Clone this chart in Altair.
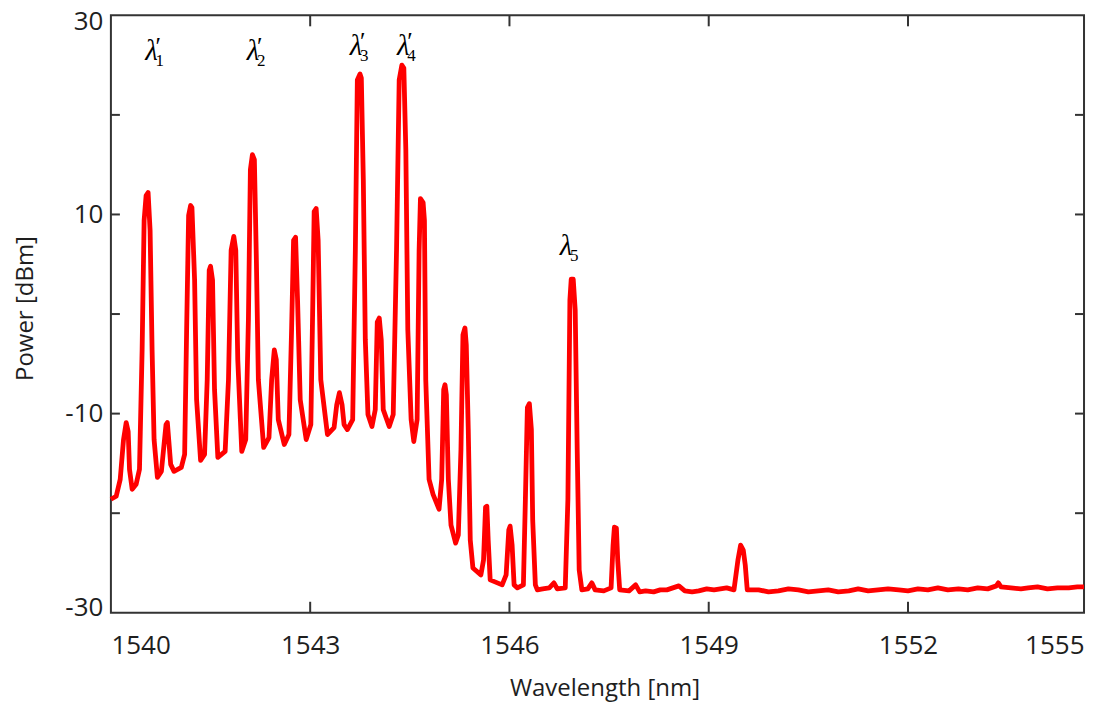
import altair as alt
import pandas as pd

# ---- spectrum trace (wavelength nm, power dBm) ----
wavelength = [
    1540.00, 1540.08, 1540.14, 1540.19, 1540.23, 1540.26, 1540.28, 1540.32, 1540.38, 1540.43,
    1540.47, 1540.50, 1540.53, 1540.56, 1540.59, 1540.62, 1540.65, 1540.70, 1540.76, 1540.80,
    1540.83, 1540.85, 1540.87, 1540.90, 1540.95, 1541.06, 1541.11, 1541.14, 1541.17, 1541.20,
    1541.22, 1541.26, 1541.29, 1541.35, 1541.41, 1541.45, 1541.48, 1541.50, 1541.53, 1541.56,
    1541.61, 1541.72, 1541.77, 1541.81, 1541.85, 1541.88, 1541.91, 1541.97, 1542.03, 1542.07,
    1542.10, 1542.13, 1542.16, 1542.19, 1542.22, 1542.30, 1542.38, 1542.42, 1542.46, 1542.49,
    1542.52, 1542.61, 1542.68, 1542.72, 1542.75, 1542.78, 1542.81, 1542.85, 1542.94, 1543.01,
    1543.04, 1543.06, 1543.09, 1543.12, 1543.16, 1543.26, 1543.36, 1543.40, 1543.44, 1543.48,
    1543.51, 1543.56, 1543.64, 1543.68, 1543.71, 1543.75, 1543.77, 1543.80, 1543.83, 1543.87,
    1543.93, 1543.98, 1544.01, 1544.04, 1544.07, 1544.10, 1544.19, 1544.25, 1544.30, 1544.34,
    1544.38, 1544.41, 1544.44, 1544.47, 1544.52, 1544.56, 1544.61, 1544.64, 1544.66, 1544.70,
    1544.72, 1544.74, 1544.79, 1544.85, 1544.94, 1544.98, 1545.01, 1545.03, 1545.05, 1545.08,
    1545.12, 1545.19, 1545.23, 1545.27, 1545.30, 1545.33, 1545.35, 1545.38, 1545.41, 1545.45,
    1545.57, 1545.61, 1545.64, 1545.66, 1545.68, 1545.71, 1545.89, 1545.95, 1545.99, 1546.01,
    1546.04, 1546.07, 1546.12, 1546.21, 1546.24, 1546.27, 1546.30, 1546.33, 1546.35, 1546.39,
    1546.42, 1546.50, 1546.60, 1546.67, 1546.72, 1546.84, 1546.88, 1546.91, 1546.93, 1546.96,
    1546.99, 1547.02, 1547.05, 1547.09, 1547.18, 1547.24, 1547.29, 1547.42, 1547.53, 1547.56,
    1547.58, 1547.61, 1547.63, 1547.66, 1547.80, 1547.90, 1547.96, 1548.05, 1548.17, 1548.27,
    1548.37, 1548.55, 1548.64, 1548.75, 1548.85, 1548.97, 1549.08, 1549.27, 1549.38, 1549.44,
    1549.48, 1549.52, 1549.55, 1549.58, 1549.75, 1549.90, 1550.05, 1550.20, 1550.35, 1550.50,
    1550.65, 1550.80, 1550.95, 1551.11, 1551.25, 1551.40, 1551.55, 1551.70, 1551.86, 1552.00,
    1552.15, 1552.30, 1552.45, 1552.60, 1552.76, 1552.90, 1553.05, 1553.20, 1553.33, 1553.36,
    1553.40, 1553.55, 1553.70, 1553.81, 1553.95, 1554.10, 1554.25, 1554.42, 1554.55, 1554.65,
]
power = [
    -18.6, -18.3, -16.6, -12.6, -10.9, -11.8, -15.6, -17.6, -17.1, -15.6,
    -3.6, 9.4, 11.9, 12.2, 8.4, -3.6, -12.6, -16.4, -15.8, -13.1,
    -11.1, -10.9, -12.6, -15.1, -15.8, -15.4, -14.1, -1.6, 9.9, 10.9,
    10.7, 3.4, -8.6, -14.7, -14.1, -6.6, 4.4, 4.8, 3.4, -7.6,
    -14.4, -13.8, -6.6, 6.4, 7.8, 6.4, -4.6, -13.8, -12.6, -0.6,
    14.5, 16.0, 15.5, 5.4, -6.6, -13.4, -12.4, -6.6, -3.6, -4.6,
    -10.6, -13.1, -12.1, -1.6, 7.4, 7.7, 1.4, -8.6, -12.6, -11.1,
    1.4, 10.3, 10.6, 7.4, -6.6, -12.1, -11.4, -9.1, -7.9, -9.1,
    -11.1, -11.6, -10.6, 6.4, 23.5, 24.1, 23.7, 13.5, -2.6, -10.1,
    -11.3, -9.6, -0.8, -0.4, -2.6, -9.6, -11.3, -10.1, 6.4, 23.5,
    25.0, 24.7, 16.5, -1.6, -10.6, -12.8, -10.6, 6.4, 11.6, 11.2,
    9.4, -6.6, -16.6, -18.1, -19.6, -16.6, -7.6, -7.1, -8.1, -16.6,
    -21.2, -23.0, -22.2, -13.6, -2.1, -1.4, -3.1, -11.6, -22.7, -25.5,
    -26.2, -24.7, -19.4, -19.3, -22.7, -26.7, -27.2, -26.2, -21.7, -21.3,
    -23.2, -27.2, -27.5, -27.2, -18.6, -9.4, -9.0, -11.6, -20.7, -27.2,
    -27.7, -27.6, -27.5, -27.0, -27.6, -27.5, -18.6, 1.4, 3.5, 3.5,
    0.4, -13.6, -25.7, -27.7, -27.6, -27.0, -27.7, -27.8, -27.5, -23.2,
    -21.4, -21.5, -24.7, -27.7, -27.8, -27.2, -27.9, -27.8, -27.9, -27.7,
    -27.7, -27.3, -27.8, -27.9, -27.8, -27.6, -27.7, -27.5, -27.7, -24.7,
    -23.2, -23.7, -25.2, -27.7, -27.7, -27.9, -27.8, -27.6, -27.7, -27.9,
    -27.8, -27.7, -27.9, -27.8, -27.6, -27.8, -27.7, -27.6, -27.7, -27.8,
    -27.6, -27.7, -27.5, -27.7, -27.6, -27.7, -27.5, -27.6, -27.3, -27.0,
    -27.4, -27.5, -27.6, -27.5, -27.4, -27.6, -27.5, -27.5, -27.4, -27.4,
]

# ---- axes ----
x_tick_values = [1540, 1543, 1546, 1549, 1552, 1554.65]   # last one is labelled 1555
y_tick_values = [30, 10, -10, -30]
x_inner_ticks = [1543, 1546, 1549, 1552]
y_inner_ticks = [20, 10, 0, -10, -20]

# ---- peak annotations ----
label_wl = [1540.61, 1542.14, 1543.69, 1544.40, 1546.85]
label_db = [25.5, 25.5, 26.0, 26.0, 5.9]
label_sub = ["1", "2", "3", "4", "5"]
label_prime = ["′", "′", "′", "′", ""]

W, H = 974, 598
xscale = alt.Scale(domain=[1540, 1554.65], nice=False, zero=False)
yscale = alt.Scale(domain=[-30, 30], nice=False, zero=False)

xaxis = alt.Axis(
    values=x_tick_values, labelExpr="format(datum.value, '.0f')", title="Wavelength [nm]",
    ticks=False, domain=False, grid=False, labelFlush=True,
    labelFont="Open Sans", labelFontSize=26, labelColor="#1e1e1e", labelPadding=20,
    titleFont="Open Sans", titleFontSize=24, titleFontWeight="normal", titleColor="#1e1e1e",
    titleX=494, titleY=76, titleBaseline="middle")
yaxis = alt.Axis(
    values=y_tick_values, labelExpr="'' + datum.value", title="Power [dBm]",
    ticks=False, domain=False, grid=False, labelFlush=False,
    labelOffset={"condition": [{"test": "datum.value == 30", "value": 6},
                               {"test": "datum.value == -30", "value": -5}],
                 "value": 0},
    labelFont="Open Sans", labelFontSize=26, labelColor="#1e1e1e", labelPadding=8,
    titleFont="Open Sans", titleFontSize=24, titleFontWeight="normal", titleColor="#1e1e1e",
    titleX=-85, titleY=293, titleBaseline="middle", titleAngle=-90)

X = alt.X("wl:Q", scale=xscale, axis=xaxis)
Y = alt.Y("p:Q", scale=yscale, axis=yaxis)

df = pd.DataFrame({"wl": wavelength, "p": power})
lab = pd.DataFrame({"wl": label_wl, "p": label_db, "sub": label_sub, "prime": label_prime})
xt = pd.DataFrame({"wl": x_inner_ticks})
yt = pd.DataFrame({"p": y_inner_ticks})

line = alt.Chart(df).mark_line(color="#ff0000", strokeWidth=4.8, strokeJoin="round").encode(x=X, y=Y)

tick_style = dict(color="#333333", strokeWidth=2)
bottom_ticks = alt.Chart(xt).mark_rule(**tick_style).encode(x=X, y=alt.value(H), y2=alt.value(H - 11))
top_ticks = alt.Chart(xt).mark_rule(**tick_style).encode(x=X, y=alt.value(0), y2=alt.value(11))
left_ticks = alt.Chart(yt).mark_rule(**tick_style).encode(y=Y, x=alt.value(0), x2=alt.value(9))
right_ticks = alt.Chart(yt).mark_rule(**tick_style).encode(y=Y, x=alt.value(W), x2=alt.value(W - 9))

lam = alt.Chart(lab).mark_text(font="Liberation Serif", fontStyle="italic", fontSize=29,
                               align="center", baseline="alphabetic", color="black").encode(
    x=X, y=Y, text=alt.value("λ"))
sub = alt.Chart(lab).mark_text(font="Liberation Serif", fontSize=17, align="left",
                               baseline="alphabetic", color="black", dx=4, dy=6).encode(
    x=X, y=Y, text="sub:N")
prime = alt.Chart(lab).mark_text(font="Liberation Serif", fontSize=25, align="left",
                                 baseline="alphabetic", color="black", dx=4, dy=-5).encode(
    x=X, y=Y, text="prime:N")

chart = alt.layer(line, bottom_ticks, top_ticks, left_ticks, right_ticks, lam, sub, prime).properties(
    width=W, height=H,
    autosize=alt.AutoSizeParams(type="none"),
    padding={"left": 103, "top": 7, "right": 20, "bottom": 92},
    background="white",
).configure_view(stroke="#333333", strokeWidth=2)

chart.save("out.html", embed_options={"renderer": "svg", "actions": False})
